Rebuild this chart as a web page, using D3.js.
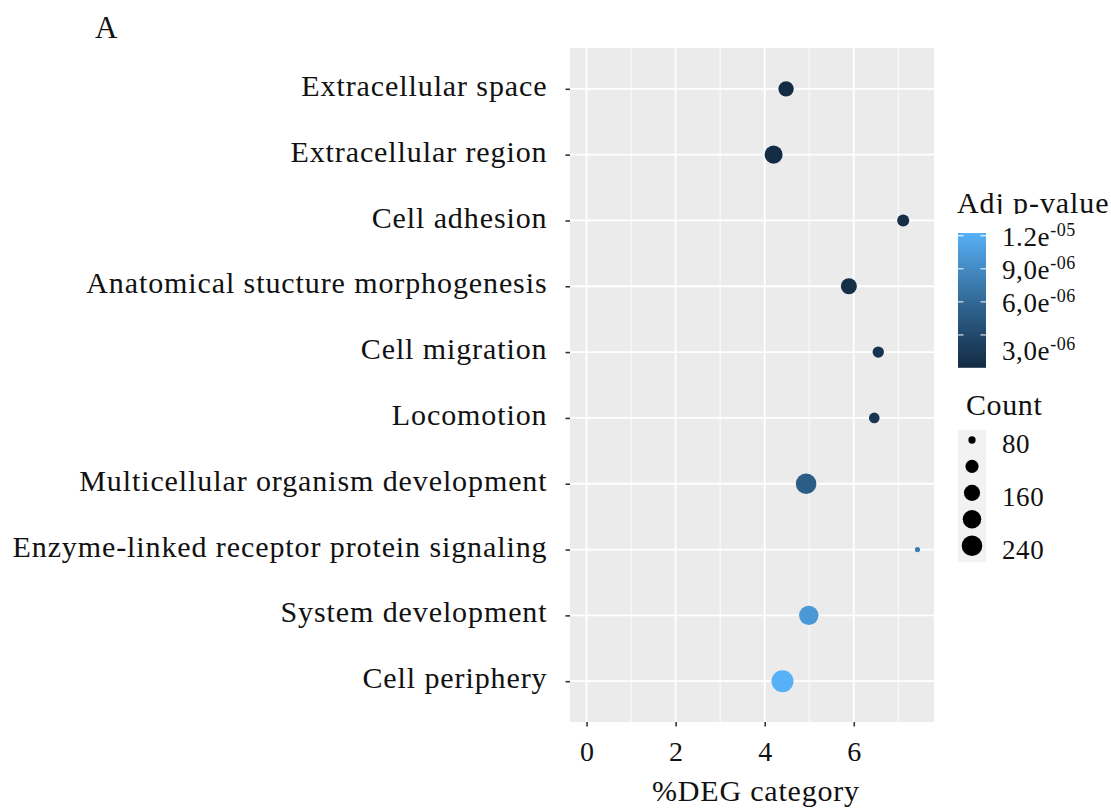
<!DOCTYPE html>
<html>
<head>
<meta charset="utf-8">
<script src="https://cdn.jsdelivr.net/npm/d3@7"></script>
<style>
  html, body { margin: 0; padding: 0; background: #fff; }
  svg text { font-family: "Liberation Serif", "DejaVu Serif", serif; fill: #111; }
</style>
</head>
<body>
<svg id="chart" width="1111" height="809"></svg>
<script>
// ---------------- data ----------------
const categories = [
  "Extracellular space",
  "Extracellular region",
  "Cell adhesion",
  "Anatomical stucture morphogenesis",
  "Cell migration",
  "Locomotion",
  "Multicellular organism development",
  "Enzyme-linked receptor protein signaling",
  "System development",
  "Cell periphery"
];
const degPercent = [4.48, 4.20, 7.11, 5.89, 6.55, 6.46, 4.93, 7.43, 4.99, 4.40];
const counts     = [148, 190, 109, 157, 103, 97, 240, 77, 216, 271];
const adjPValues = [2e-8, 5e-8, 3e-7, 4e-7, 9e-7, 1.1e-6, 4.9e-6, 7.8e-6, 1.02e-5, 1.225e-5];

const xTicks = [0, 2, 4, 6];
const xMinorTicks = [1, 3, 5, 7];
const colorTicks = [1.2e-5, 9e-6, 6e-6, 3e-6];
const colorTickLabels = [["1.2e", "-05"], ["9,0e", "-06"], ["6,0e", "-06"], ["3,0e", "-06"]];
const sizeKeys = [80, 120, 160, 200, 240];
const sizeKeyLabels = ["80", "", "160", "", "240"];

const panelLetter = "A";
const xTitle = "%DEG category";
const colorTitle = "Adj p-value";
const sizeTitle = "Count";

// ---------------- layout ----------------
const svg = d3.select("#chart");
const panel = { left: 570, right: 934, top: 48, bottom: 722 };

const xMax = d3.max(degPercent);
const xPad = (xMax - 0) * 0.05;
const x = d3.scaleLinear().domain([0 - xPad, xMax + xPad]).range([panel.left, panel.right]);
const y = d3.scalePoint().domain(categories).range([panel.top, panel.bottom]).padding(0.62);

const pMin = d3.min(adjPValues), pMax = d3.max(adjPValues);
const color = d3.scaleLinear().domain([pMin, pMax]).range(["#132B43", "#56B1F7"]).interpolate(d3.interpolateLab);

// ggplot-like area scale: radius linear in sqrt of rescaled value
const cMin = 77, cMax = 271;
const rScale = d3.scaleSqrt().domain([0, cMax - cMin]).range([2.6, 11]).clamp(true);
const radius = c => rScale(c - cMin);

// panel background
svg.append("rect").attr("x", panel.left).attr("y", panel.top)
  .attr("width", panel.right - panel.left).attr("height", panel.bottom - panel.top)
  .attr("fill", "#EBEBEB");

// grid
const grid = svg.append("g");
grid.selectAll(".minor").data(xMinorTicks).join("line")
  .attr("x1", d => x(d)).attr("x2", d => x(d))
  .attr("y1", panel.top).attr("y2", panel.bottom)
  .attr("stroke", "#fff").attr("stroke-width", 0.9);
grid.selectAll(".majorx").data(xTicks).join("line")
  .attr("x1", d => x(d)).attr("x2", d => x(d))
  .attr("y1", panel.top).attr("y2", panel.bottom)
  .attr("stroke", "#fff").attr("stroke-width", 1.8);
grid.selectAll(".majory").data(categories).join("line")
  .attr("x1", panel.left).attr("x2", panel.right)
  .attr("y1", d => y(d)).attr("y2", d => y(d))
  .attr("stroke", "#fff").attr("stroke-width", 1.8);

// axes
const xAxis = svg.append("g").attr("transform", `translate(0,${panel.bottom})`)
  .call(d3.axisBottom(x).tickValues(xTicks).tickSize(4.5).tickPadding(8).tickFormat(d3.format("d")));
xAxis.select(".domain").remove();
xAxis.selectAll(".tick line").attr("stroke", "#333").attr("stroke-width", 1.6);
xAxis.selectAll(".tick text").attr("font-size", 28).attr("font-family", "Liberation Serif").attr("fill", "#111").attr("dy", "0.95em");

const yAxis = svg.append("g").attr("transform", `translate(${panel.left},0)`)
  .call(d3.axisLeft(y).tickSize(4.5).tickPadding(18));
yAxis.select(".domain").remove();
yAxis.selectAll(".tick line").attr("stroke", "#333").attr("stroke-width", 1.6);
yAxis.selectAll(".tick text").attr("font-size", 30).attr("letter-spacing", 0.9)
  .attr("font-family", "Liberation Serif").attr("fill", "#111").attr("dy", "0.22em");

// points
svg.append("g").selectAll("circle").data(categories).join("circle")
  .attr("cx", (d, i) => x(degPercent[i]))
  .attr("cy", d => y(d))
  .attr("r", (d, i) => radius(counts[i]))
  .attr("fill", (d, i) => color(adjPValues[i]));

// titles
svg.append("text").attr("x", 95).attr("y", 38).attr("font-size", 31).text(panelLetter);
svg.append("text").attr("x", (panel.left + panel.right) / 2 + 4).attr("y", 801)
  .attr("text-anchor", "middle").attr("font-size", 30).attr("letter-spacing", 0.8).text(xTitle);

// color legend
const cb = { x: 958, w: 28, top: 233, bottom: 368 };
const cbScale = d3.scaleLinear().domain([0, 1.225e-5]).range([cb.bottom, cb.top]);
const defs = svg.append("defs");
const grad = defs.append("linearGradient").attr("id", "cbgrad")
  .attr("x1", 0).attr("y1", 1).attr("x2", 0).attr("y2", 0);
d3.range(0, 1.0001, 0.1).forEach(t => {
  grad.append("stop").attr("offset", t).attr("stop-color", color(pMin + t * (pMax - pMin)));
});
defs.append("clipPath").attr("id", "titleclip").append("rect")
  .attr("x", 940).attr("y", 150).attr("width", 171).attr("height", 64);
svg.append("text").attr("x", 957).attr("y", 213).attr("font-size", 30).attr("letter-spacing", 0.9)
  .attr("clip-path", "url(#titleclip)").text(colorTitle);
svg.append("rect").attr("x", cb.x).attr("y", cbScale(pMax)).attr("width", cb.w)
  .attr("height", cbScale(pMin) - cbScale(pMax)).attr("fill", "url(#cbgrad)");
const cbt = svg.append("g");
colorTicks.forEach((v, i) => {
  const yy = cbScale(v);
  cbt.append("line").attr("x1", cb.x).attr("x2", cb.x + 5.5).attr("y1", yy).attr("y2", yy)
    .attr("stroke", "#fff").attr("stroke-width", 1);
  cbt.append("line").attr("x1", cb.x + cb.w - 5.5).attr("x2", cb.x + cb.w).attr("y1", yy).attr("y2", yy)
    .attr("stroke", "#fff").attr("stroke-width", 1);
  const shift = i === colorTicks.length - 1 ? 16 : 1;
  const t = cbt.append("text").attr("x", 1002).attr("y", yy + shift + 9).attr("font-size", 27).attr("letter-spacing", 0.6);
  t.append("tspan").text(colorTickLabels[i][0]);
  t.append("tspan").attr("font-size", 18).attr("dy", -10).text(colorTickLabels[i][1]);
});

// size legend
svg.append("text").attr("x", 966).attr("y", 415).attr("font-size", 30).attr("letter-spacing", 0.6).text(sizeTitle);
svg.append("rect").attr("x", 958).attr("y", 430).attr("width", 28).attr("height", 132).attr("fill", "#F2F2F2");
const keyY = d3.scalePoint().domain(sizeKeys).range([440, 545.7]);
svg.append("g").selectAll("circle").data(sizeKeys).join("circle")
  .attr("cx", 972).attr("cy", d => keyY(d)).attr("r", d => radius(d)).attr("fill", "#000");
svg.append("g").selectAll("text").data(sizeKeys).join("text")
  .attr("x", 1002).attr("y", d => keyY(d) + 13).attr("font-size", 27).attr("letter-spacing", 0.6)
  .text((d, i) => sizeKeyLabels[i]);
</script>
</body>
</html>
